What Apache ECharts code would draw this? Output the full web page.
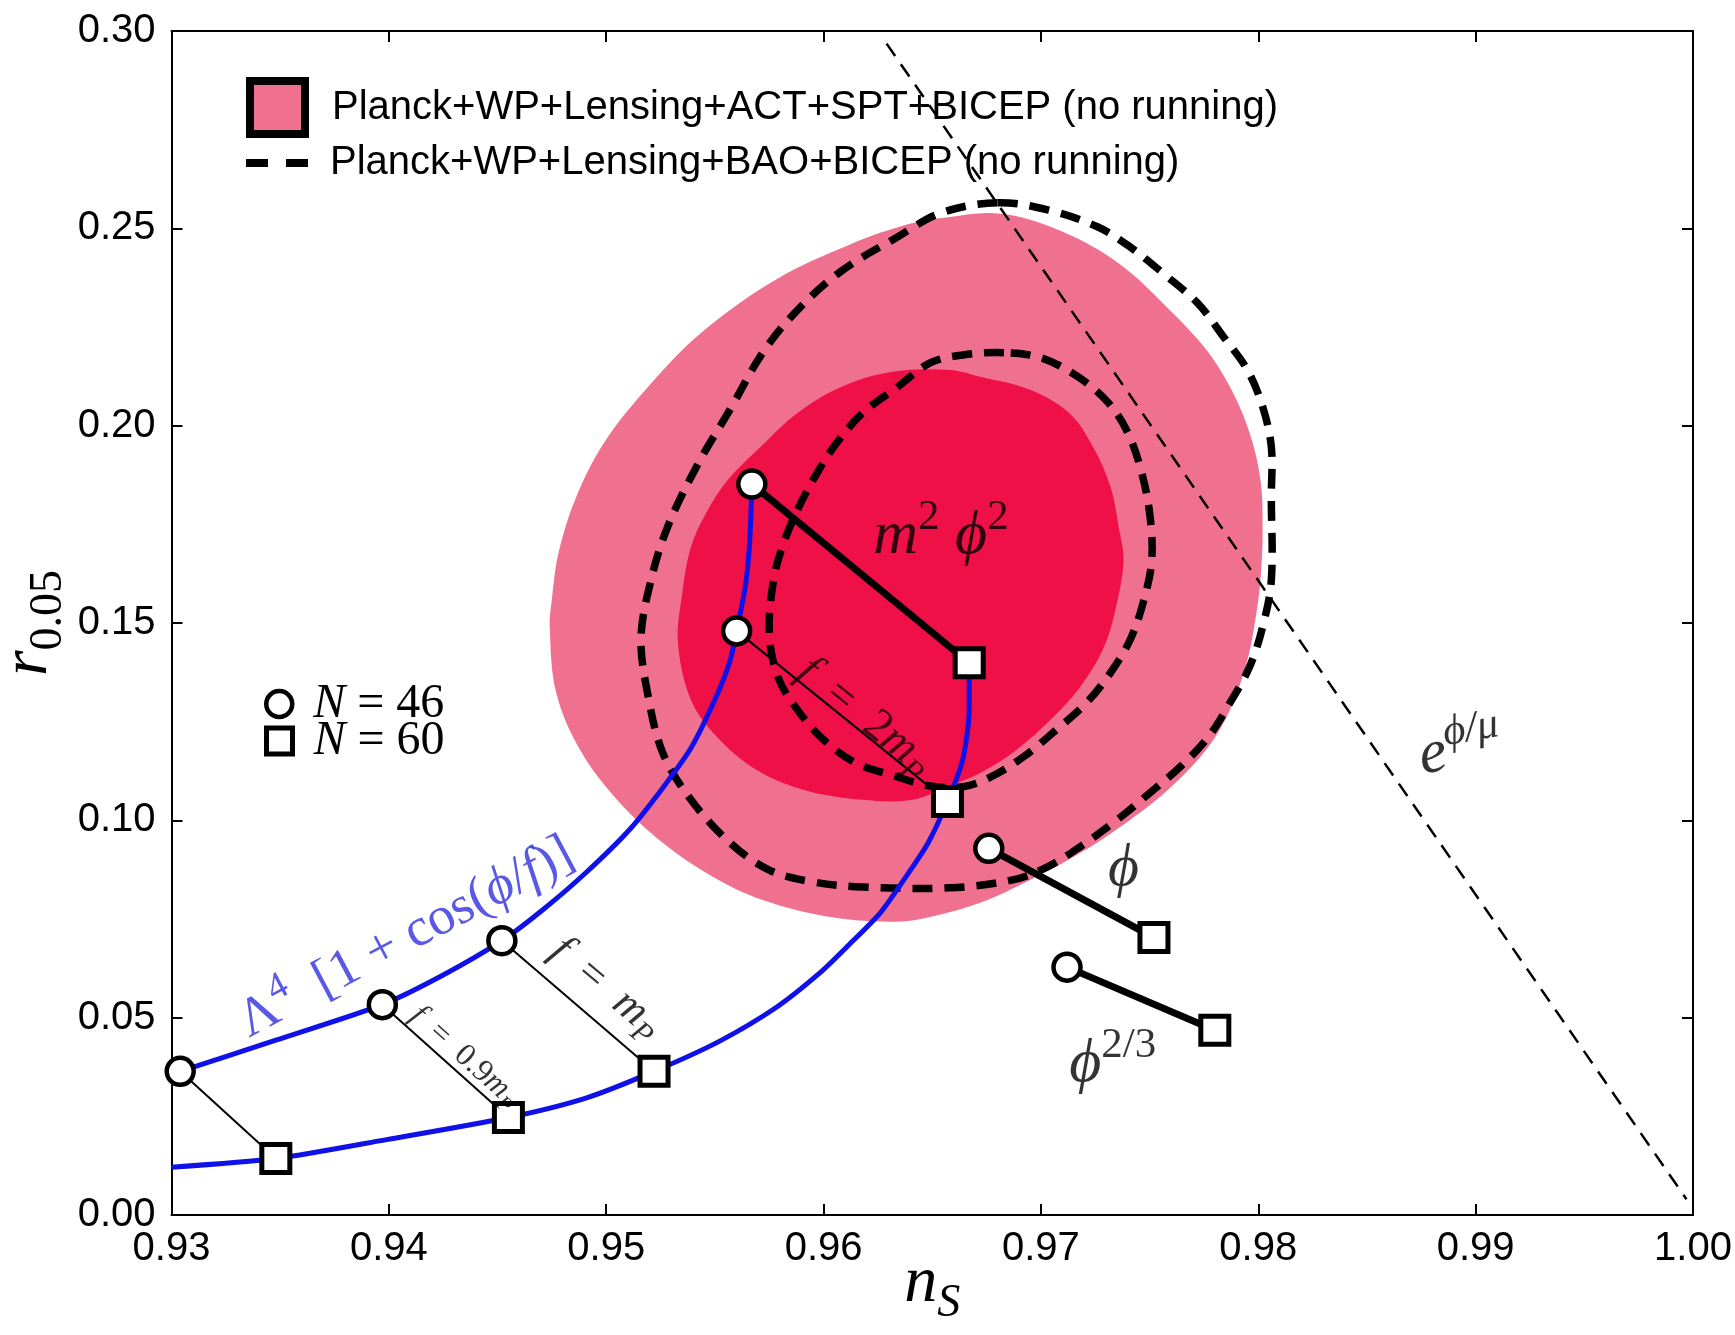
<!DOCTYPE html>
<html><head><meta charset="utf-8">
<script src="https://cdn.jsdelivr.net/npm/echarts@6/dist/echarts.min.js"></script>
<style>html,body{margin:0;padding:0;background:#fff}#c{width:1735px;height:1335px}</style>
</head><body><div id="c"></div>
<script>
// ---------- data (n_S, r_0.05) ----------
const xTickLabels = ['0.93','0.94','0.95','0.96','0.97','0.98','0.99','1.00'];
const yTickLabels = ['0.00','0.05','0.10','0.15','0.20','0.25','0.30'];

const legendNames = [
  'Planck+WP+Lensing+ACT+SPT+BICEP (no running)',
  'Planck+WP+Lensing+BAO+BICEP (no running)'
];

// filled contours (Planck+WP+Lensing+ACT+SPT+BICEP)
const actSpt2sigma = [[0.9658,0.2529],[0.9677,0.2539],[0.9695,0.2522],[0.9718,0.2471],[0.9738,0.2402],[0.9756,0.2311],[0.9775,0.2200],[0.9787,0.2098],[0.9796,0.1982],[0.9801,0.1863],[0.9802,0.1736],[0.9801,0.1609],[0.9799,0.1521],[0.9795,0.1406],[0.9787,0.1280],[0.9777,0.1186],[0.9760,0.1085],[0.9741,0.1001],[0.9718,0.0917],[0.9695,0.0849],[0.9672,0.0791],[0.9649,0.0755],[0.9634,0.0743],[0.9603,0.0755],[0.9572,0.0798],[0.9549,0.0857],[0.9526,0.0943],[0.9505,0.1052],[0.9488,0.1178],[0.9477,0.1323],[0.9474,0.1490],[0.9475,0.1560],[0.9478,0.1676],[0.9486,0.1817],[0.9499,0.1957],[0.9519,0.2097],[0.9544,0.2237],[0.9578,0.2370],[0.9613,0.2461],[0.9640,0.2512]];
const actSpt1sigma = [[0.9588,0.2032],[0.9608,0.2098],[0.9631,0.2136],[0.9658,0.2141],[0.9672,0.2124],[0.9695,0.2091],[0.9713,0.2032],[0.9724,0.1946],[0.9732,0.1845],[0.9736,0.1736],[0.9738,0.1660],[0.9735,0.1551],[0.9729,0.1439],[0.9718,0.1338],[0.9703,0.1247],[0.9687,0.1171],[0.9672,0.1120],[0.9657,0.1085],[0.9641,0.1052],[0.9618,0.1052],[0.9591,0.1077],[0.9569,0.1128],[0.9551,0.1211],[0.9539,0.1305],[0.9533,0.1450],[0.9535,0.1576],[0.9539,0.1693],[0.9546,0.1779],[0.9556,0.1863],[0.9571,0.1946]];

// dashed contours (Planck+WP+Lensing+BAO+BICEP)
const bao2sigma = [[0.9680,0.2565],[0.9654,0.2539],[0.9634,0.2478],[0.9608,0.2391],[0.9588,0.2293],[0.9572,0.2185],[0.9557,0.2041],[0.9542,0.1901],[0.9528,0.1740],[0.9520,0.1595],[0.9516,0.1460],[0.9519,0.1323],[0.9526,0.1171],[0.9539,0.1052],[0.9557,0.0943],[0.9575,0.0874],[0.9595,0.0844],[0.9618,0.0831],[0.9658,0.0829],[0.9687,0.0849],[0.9703,0.0882],[0.9718,0.0933],[0.9735,0.1001],[0.9750,0.1069],[0.9764,0.1135],[0.9777,0.1211],[0.9787,0.1298],[0.9796,0.1389],[0.9802,0.1490],[0.9806,0.1609],[0.9806,0.1820],[0.9806,0.1946],[0.9802,0.2048],[0.9795,0.2141],[0.9784,0.2225],[0.9772,0.2311],[0.9756,0.2387],[0.9741,0.2453],[0.9726,0.2504],[0.9703,0.2547]];
const bao1sigma = [[0.9683,0.2185],[0.9664,0.2179],[0.9649,0.2159],[0.9634,0.2098],[0.9618,0.2032],[0.9606,0.1956],[0.9597,0.1880],[0.9588,0.1787],[0.9581,0.1693],[0.9577,0.1609],[0.9575,0.1475],[0.9579,0.1363],[0.9588,0.1280],[0.9600,0.1204],[0.9615,0.1145],[0.9634,0.1110],[0.9649,0.1087],[0.9664,0.1085],[0.9677,0.1110],[0.9692,0.1161],[0.9707,0.1229],[0.9721,0.1298],[0.9732,0.1374],[0.9741,0.1457],[0.9747,0.1551],[0.9751,0.1660],[0.9750,0.1779],[0.9746,0.1888],[0.9740,0.1982],[0.9731,0.2058],[0.9717,0.2124],[0.9700,0.2172]];

// natural inflation tracks
const naturalN46 = [[0.9300,0.0356],[0.9304,0.0364],[0.9348,0.0443],[0.9397,0.0533],[0.9425,0.0608],[0.9452,0.0695],[0.9471,0.0774],[0.9491,0.0869],[0.9511,0.0978],[0.9526,0.1082],[0.9539,0.1183],[0.9551,0.1318],[0.9557,0.1405],[0.9560,0.1480],[0.9564,0.1592],[0.9566,0.1705],[0.9567,0.1852]];
const naturalN60 = [[0.9300,0.0121],[0.9348,0.0143],[0.9399,0.0191],[0.9455,0.0247],[0.9491,0.0297],[0.9522,0.0364],[0.9552,0.0440],[0.9578,0.0525],[0.9598,0.0612],[0.9611,0.0681],[0.9626,0.0765],[0.9638,0.0858],[0.9648,0.0942],[0.9657,0.1048],[0.9664,0.1153],[0.9667,0.1280],[0.9667,0.1399]];

// model points: natural inflation (4 values of f), m^2 phi^2, phi, phi^(2/3)
const pointsN46 = [[0.9304,0.0364],[0.9397,0.0533],[0.9452,0.0695],[0.9560,0.1480],[0.9567,0.1852],[0.9676,0.0929],[0.9712,0.0628]];
const pointsN60 = [[0.9348,0.0143],[0.9455,0.0247],[0.9522,0.0364],[0.9657,0.1048],[0.9667,0.1399],[0.9752,0.0703],[0.9780,0.0468]];
const thinPairs = [0,1,2,3];
const thickPairs = [4,5,6];

// power-law (exponential potential) line r = 8(1-n_S)
const exponentialLine = [[0.9629,0.2968],[0.9997,0.0040]];

// annotations
const annotationPos = [[0.9408,0.0702],[0.9435,0.0401],[0.9500,0.0575],[0.9619,0.1262],[0.9654,0.1719],[0.9738,0.0877],[0.9733,0.0381],[0.9893,0.1177]];
const annotationText = [
  '{r|Λ}{sup|4}{r|\u2002[1 + cos(}{i|ϕ}{r|/}{i|f}{r|)]}',
  '{i|f}{r|\u2002=\u20020.9}{i|m}{subi|P}',
  '{i|f}{r|\u2002=\u2002}{i|m}{subi|P}',
  '{i|f}{r|\u2002=\u20022}{i|m}{subi|P}',
  '{i|m}{sup|2}{r| }{i|ϕ}{sup|2}',
  '{i|ϕ}',
  '{i|ϕ}{sup|2/3}',
  '{i|e}{supi|ϕ/μ}'
];

// ---------- styles ----------
const SANS = "'Liberation Sans', Arial, sans-serif";
const SERIF = "'Liberation Serif','DejaVu Serif',serif";
const PINK = '#F0718F';
const CRIMSON = '#EF1048';
const BLUE = '#1010E8';
const annotationStyle = [
  {size:54, rot:28, color:'#3030E0'},
  {size:32, rot:-42, color:'#000'},
  {size:44, rot:-40, color:'#000'},
  {size:46, rot:-39, color:'#1a0008'},
  {size:62, rot:0, color:'#000'},
  {size:60, rot:0, color:'#000'},
  {size:62, rot:0, color:'#000'},
  {size:62, rot:10, color:'#000'}
];
function mathRich(size, color) {
  const lh = Math.round(size*1.3), s = Math.round(size*0.7);
  return {
    i:{fontFamily:SERIF,fontStyle:'italic',fontSize:size,lineHeight:lh,color:color},
    r:{fontFamily:SERIF,fontSize:size,lineHeight:lh,color:color},
    sup:{fontFamily:SERIF,fontSize:s,lineHeight:s,verticalAlign:'top',color:color},
    supi:{fontFamily:SERIF,fontStyle:'italic',fontSize:s,lineHeight:s,verticalAlign:'top',color:color},
    sub:{fontFamily:SERIF,fontSize:s,lineHeight:s,verticalAlign:'bottom',color:color},
    subi:{fontFamily:SERIF,fontStyle:'italic',fontSize:s,lineHeight:s,verticalAlign:'bottom',color:color}
  };
}

function polygonSeries(name, pts, z, style) {
  return {
    type:'custom', name:name, z:z, silent:true, data:pts,
    renderItem:function(params, api){
      if (params.dataIndex !== 0) return null;
      const p = pts.map(function(d){ return api.coord(d); });
      return {type:'polygon', shape:{points:p, smooth:0.35}, style:style};
    }
  };
}

const series = [];
series.push(polygonSeries(legendNames[0], actSpt2sigma, 1, {fill:PINK, stroke:null}));
series.push(polygonSeries(legendNames[0], actSpt1sigma, 2, {fill:CRIMSON, stroke:null}));
series.push(polygonSeries(legendNames[1], bao2sigma, 3, {fill:null, stroke:'#000', lineWidth:7.5, lineDash:[20,12]}));
series.push(polygonSeries(legendNames[1], bao1sigma, 3, {fill:null, stroke:'#000', lineWidth:7.5, lineDash:[20,12]}));
series.push({type:'line', z:4, silent:true, data:exponentialLine, symbol:'none',
  lineStyle:{color:'#000', width:2.5, type:[15,10]}});
[naturalN46, naturalN60].forEach(function(c){
  series.push({type:'line', z:5, silent:true, data:c, symbol:'none', smooth:0.25,
    lineStyle:{color:BLUE, width:5}});
});
thinPairs.forEach(function(k){
  series.push({type:'line', z:6, silent:true, data:[pointsN46[k], pointsN60[k]], symbol:'none',
    lineStyle:{color:'#000', width:2}});
});
thickPairs.forEach(function(k){
  series.push({type:'line', z:6, silent:true, data:[pointsN46[k], pointsN60[k]], symbol:'none',
    lineStyle:{color:'#000', width:7}});
});
series.push({type:'scatter', name:'N=46', z:8, silent:true, data:pointsN46, symbol:'circle', symbolSize:27,
  itemStyle:{color:'#fff', borderColor:'#000', borderWidth:4.5, opacity:1}});
series.push({type:'scatter', name:'N=60', z:8, silent:true, data:pointsN60, symbol:'rect', symbolSize:28,
  itemStyle:{color:'#fff', borderColor:'#000', borderWidth:5, opacity:1}});
annotationPos.forEach(function(p, k){
  const st = annotationStyle[k];
  series.push({type:'scatter', z:9, silent:true, data:[p], symbolSize:1,
    itemStyle:{color:'rgba(0,0,0,0)'},
    label:{show:true, position:'inside', formatter:annotationText[k], rotate:st.rot,
      rich:mathRich(st.size, st.color)}});
});

const axisCommon = {
  axisLine:{show:true, onZero:false, lineStyle:{color:'#000', width:2}},
  axisTick:{show:true, inside:true, length:11, lineStyle:{color:'#000', width:2}},
  splitLine:{show:false}
};
function markerLegend(name, icon, border, top) {
  return {
    data:[{name:name, icon:icon, itemStyle:{color:'#fff', borderColor:'#000', borderWidth:border}}],
    left:264, top:top, padding:0, itemWidth:26, itemHeight:26, selectedMode:false,
    formatter:function(n){ return '{i|N}{r| = ' + n.split('=')[1] + '}'; },
    textStyle:{padding:[0,0,0,16], rich:{
      i:{fontFamily:SERIF, fontStyle:'italic', fontSize:48, lineHeight:40, color:'#000'},
      r:{fontFamily:SERIF, fontSize:48, lineHeight:40, color:'#000'}}}
  };
}
const option = {
  animation:false,
  backgroundColor:'#fff',
  grid:{left:171.5, right:42, top:31, bottom:120, containLabel:false, outerBoundsMode:'none'},
  xAxis:[
    Object.assign({type:'value', position:'bottom', min:0.93, max:1.00, interval:0.01,
      axisLabel:{color:'#000', fontFamily:SANS, fontSize:40, margin:14,
        formatter:function(v){ return xTickLabels[Math.round((v-0.93)/0.01)]; }},
      name:'{i|n}{subi|S}', nameLocation:'middle', nameGap:26, nameMoveOverlap:false,
      nameTextStyle:{rich:mathRich(66,'#000')}}, axisCommon),
    Object.assign({type:'value', position:'top', min:0.93, max:1.00, interval:0.01,
      axisLabel:{show:false}}, axisCommon)
  ],
  yAxis:[
    Object.assign({type:'value', position:'left', min:0, max:0.30, interval:0.05,
      axisLabel:{color:'#000', fontFamily:SANS, fontSize:40, margin:16,
        formatter:function(v){ return yTickLabels[Math.round(v/0.05)]; }},
      name:'{i|r}{sub|0.05}', nameLocation:'middle', nameGap:100, nameRotate:90, nameMoveOverlap:false,
      nameTextStyle:{rich:mathRich(66,'#000')}}, axisCommon),
    Object.assign({type:'value', position:'right', min:0, max:0.30, interval:0.05,
      axisLabel:{show:false}}, axisCommon)
  ],
  legend:[
    {data:[{name:legendNames[0], icon:'rect', itemStyle:{color:PINK, borderColor:'#000', borderWidth:8}}],
     left:246, top:77, padding:0, itemWidth:55, itemHeight:53, selectedMode:false,
     textStyle:{fontFamily:SANS, fontSize:40, color:'#000', padding:[0,0,0,22]}},
    {data:[{name:legendNames[1], icon:'path://M0,0H22V8H0Z M40,0H62V8H40Z', itemStyle:{color:'#000', borderWidth:0}}],
     left:246, top:143, padding:0, itemWidth:62, itemHeight:8, selectedMode:false,
     textStyle:{fontFamily:SANS, fontSize:40, color:'#000', padding:[0,0,0,17]}},
    markerLegend('N=46', 'circle', 4.5, 680),
    markerLegend('N=60', 'rect', 5, 717)
  ],
  series:series
};
const chart = echarts.init(document.getElementById('c'), null, {renderer:'canvas'});
chart.setOption(option);
</script>
</body></html>
